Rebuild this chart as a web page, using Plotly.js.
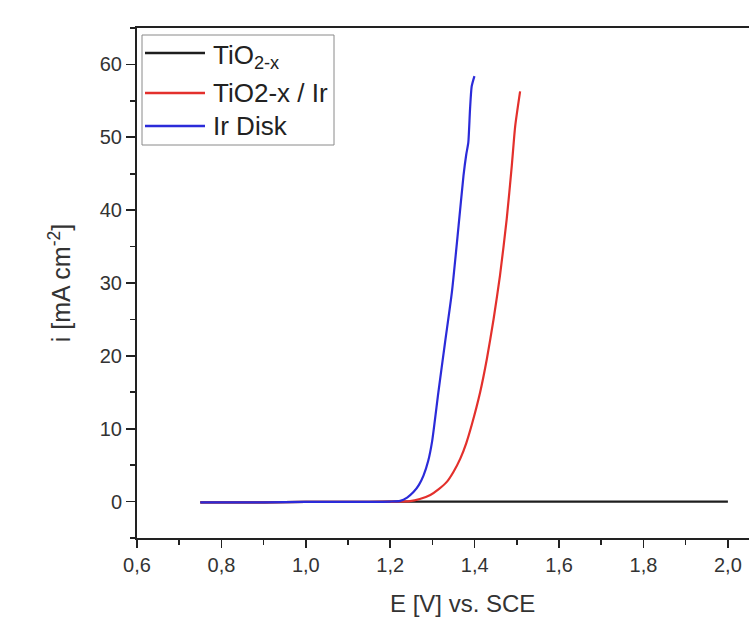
<!DOCTYPE html>
<html>
<head>
<meta charset="utf-8">
<script src="https://cdn.plot.ly/plotly-3.0.1.min.js"></script>
<style>html,body{margin:0;padding:0;background:#fff;}#chart{width:749px;height:618px;}</style>
</head>
<body>
<div id="chart"></div>
<script>
// Data
const seriesNames = ["TiO<sub>2-x</sub>", "TiO2-x / Ir", "Ir Disk"];
const seriesColors = ["#1e1e1e", "#e3302c", "#2b2bd9"];

const tioE = [0.75, 0.9, 1.0, 1.1, 1.2, 1.3, 1.4, 1.5, 1.6, 1.7, 1.8, 1.9, 2.0];
const tioI = [-0.1, -0.1, -0.05, -0.05, 0, 0, 0, 0, 0, 0, 0, 0, 0];

const tioIrE = [0.75, 0.9, 1.0, 1.1, 1.2, 1.247, 1.27, 1.295, 1.315, 1.334, 1.35, 1.366, 1.38, 1.393, 1.413, 1.429, 1.445, 1.460, 1.476, 1.488, 1.496, 1.5077];
const tioIrI = [-0.1, -0.1, -0.05, -0.05, 0, 0.05, 0.35, 0.9, 1.7, 2.7, 4.1, 5.9, 8.0, 10.5, 15.0, 19.6, 25.1, 31.0, 38.8, 46.1, 51.5, 56.3];

const irE = [0.75, 0.9, 1.0, 1.1, 1.2, 1.2237, 1.24, 1.255, 1.268, 1.279, 1.29, 1.299, 1.314, 1.330, 1.346, 1.362, 1.3735, 1.38, 1.385, 1.389, 1.393, 1.3995];
const irI = [-0.1, -0.1, -0.05, -0.05, 0, 0.1, 0.55, 1.3, 2.3, 3.6, 5.6, 8.2, 15.0, 21.9, 28.7, 37.9, 44.7, 47.6, 49.3, 53.8, 57.0, 58.4];

const xTickVals = [0.6, 0.8, 1.0, 1.2, 1.4, 1.6, 1.8, 2.0];
const yTickVals = [0, 10, 20, 30, 40, 50, 60];
const xTitle = "E [V] vs. SCE";
const yTitle = "i [mA cm<sup>-2</sup>]";

const font = "Liberation Sans, Arial, sans-serif";

const traces = [
  {x: tioE, y: tioI, name: seriesNames[0], mode: "lines", line: {color: seriesColors[0], width: 2.2, shape: "spline", smoothing: 0.6}},
  {x: tioIrE, y: tioIrI, name: seriesNames[1], mode: "lines", line: {color: seriesColors[1], width: 2.2, shape: "spline", smoothing: 0.6}},
  {x: irE, y: irI, name: seriesNames[2], mode: "lines", line: {color: seriesColors[2], width: 2.2, shape: "spline", smoothing: 0.6}}
];

// Custom legend (paper coordinates: plot is 612 x 510 px, origin at (137, 538))
const px = v => (v - 137) / 612;
const py = v => (538 - v) / 510;
const legendRows = [53, 93, 126];
const shapes = [
  {type: "rect", xref: "paper", yref: "paper", x0: px(142), x1: px(334), y0: py(145), y1: py(35),
   line: {color: "#8a8a8a", width: 1}, fillcolor: "#fff", layer: "above"}
];
const annotations = [];
seriesNames.forEach((n, k) => {
  shapes.push({type: "line", xref: "paper", yref: "paper", x0: px(145), x1: px(205), y0: py(legendRows[k]), y1: py(legendRows[k]),
    line: {color: seriesColors[k], width: 2.6}, layer: "above"});
  annotations.push({xref: "paper", yref: "paper", x: px(211), y: py(legendRows[k] + (k === 0 ? 3 : 0)), xanchor: "left", yanchor: "middle",
    text: n, showarrow: false, font: {family: font, size: 26, color: "#222"}});
});
// x-axis title: the reference plot area runs past the right edge, so its title sits right of the visible centre
annotations.push({xref: "paper", yref: "paper", x: px(462), y: py(603), xanchor: "center", yanchor: "middle",
  text: xTitle, showarrow: false, font: {family: font, size: 24, color: "#333"}});

const layout = {
  width: 749, height: 618,
  margin: {l: 137, r: 0, t: 28, b: 80},
  paper_bgcolor: "#fff", plot_bgcolor: "#fff",
  separators: ",.",
  font: {family: font, color: "#333", size: 20},
  showlegend: false,
  shapes: shapes,
  annotations: annotations,
  xaxis: {
    range: [0.6, 2.05],
    tickvals: xTickVals, tickformat: ".1f",
    ticks: "outside", ticklen: 8, tickwidth: 1.6, tickcolor: "#222",
    minor: {dtick: 0.1, tick0: 0.6, ticks: "outside", ticklen: 5, tickwidth: 1.6, tickcolor: "#222"},
    showline: true, linecolor: "#222", linewidth: 2, mirror: true,
    showgrid: false, zeroline: false,
    tickfont: {family: font, size: 20, color: "#333"}
  },
  yaxis: {
    range: [-5, 65],
    tickvals: yTickVals,
    ticks: "outside", ticklen: 9, tickwidth: 1.6, tickcolor: "#222",
    minor: {dtick: 5, tick0: 0, ticks: "outside", ticklen: 5, tickwidth: 1.6, tickcolor: "#222"},
    showline: true, linecolor: "#222", linewidth: 2,
    showgrid: false, zeroline: false,
    tickfont: {family: font, size: 20, color: "#333"},
    title: {text: yTitle, font: {family: font, size: 25, color: "#333"}, standoff: 22}
  }
};

Plotly.newPlot("chart", traces, layout, {displayModeBar: false, staticPlot: true});
</script>
</body>
</html>
